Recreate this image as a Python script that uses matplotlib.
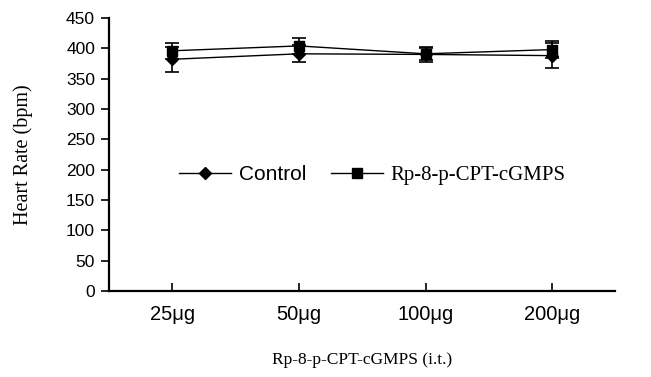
import matplotlib
matplotlib.use('Agg')
import matplotlib.pyplot as plt
from matplotlib.lines import Line2D
import numpy as np

doses = ['25\u03bcg', '50\u03bcg', '100\u03bcg', '200\u03bcg']
control = [382, 391, 390, 388]
control_err = [21, 14, 13, 20]
rp = [396, 404, 391, 398]
rp_err = [13, 13, 10, 14]

fig = plt.figure(figsize=(6.51, 3.77), dpi=100)
ax = fig.add_axes([0.1674, 0.2281, 0.778, 0.7241])

x = np.arange(len(doses)) + 0.5
ax.errorbar(x, control, yerr=control_err, color='black', lw=1, marker='D',
            ms=6, capsize=5, elinewidth=1.2, capthick=1.2)
ax.errorbar(x, rp, yerr=rp_err, color='black', lw=1, marker='s',
            ms=7, capsize=5, elinewidth=1.2, capthick=1.2)

ax.set_xlim(0, 4)
ax.set_ylim(0, 450)
ax.set_yticks(range(0, 451, 50))
ax.set_xticks(x)
ax.set_xticklabels(doses, fontsize=14.5, family='Liberation Sans')
for t in ax.get_yticklabels():
    t.set_fontsize(12.5)
    t.set_family('Liberation Sans')
ax.tick_params(axis='y', direction='out', length=6, width=1.2, pad=4)
ax.tick_params(axis='x', direction='in', length=6, width=1.2, pad=10)
for s in ['top', 'right']:
    ax.spines[s].set_visible(False)
for s in ['left', 'bottom']:
    ax.spines[s].set_linewidth(1.6)

ax.set_ylabel('Heart Rate (bpm)', fontsize=14.5, family='Liberation Serif', labelpad=24)
ax.set_xlabel('Rp-8-p-CPT-cGMPS (i.t.)', fontsize=12.5, family='Liberation Serif', labelpad=20)

handles = [Line2D([], [], color='black', lw=1, marker='D', ms=6),
           Line2D([], [], color='black', lw=1, marker='s', ms=7)]
leg = ax.legend(handles, ['Control', 'Rp-8-p-CPT-cGMPS'], loc='center',
                bbox_to_anchor=(0.52, 0.425), ncol=2, frameon=False,
                handlelength=2.5, columnspacing=1.2, handletextpad=0.35,
                fontsize=15)
leg.get_texts()[0].set_family('Liberation Sans')
leg.get_texts()[1].set_family('Liberation Serif')

plt.savefig('out.png', dpi=100)
